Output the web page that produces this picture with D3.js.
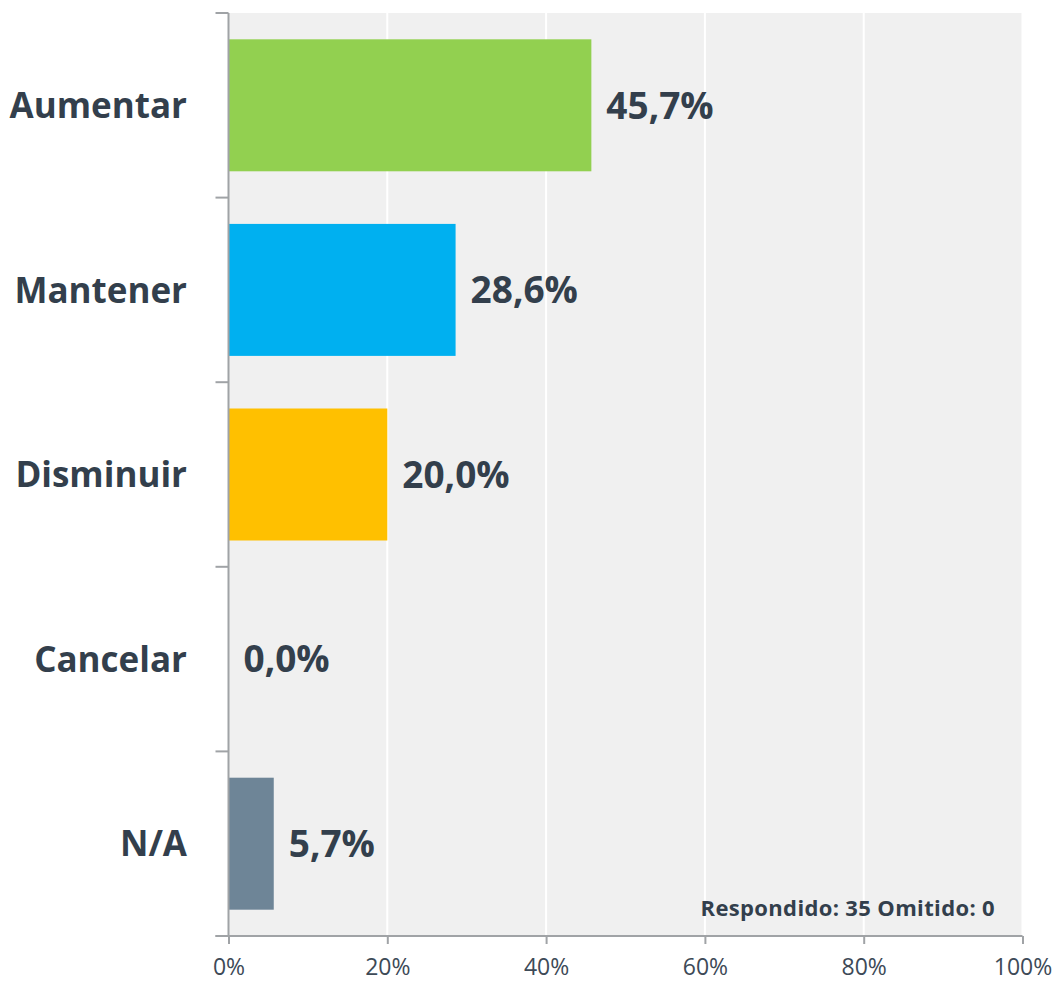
<!DOCTYPE html>
<html><head><meta charset="utf-8">
<script src="https://cdn.jsdelivr.net/npm/d3@7/dist/d3.min.js"></script>
<style>body{margin:0;background:#fff}</style>
</head><body>
<svg id="c" width="1055" height="981"></svg>
<script>
const categories = ["Aumentar","Mantener","Disminuir","Cancelar","N/A"];
const values = [45.7, 28.6, 20.0, 0.0, 5.7];
const colors = ["#92d050","#00b0f0","#ffc000","#a5a5a5","#6e8597"];
const ticks = [0,20,40,60,80,100];
const note = "Respondido: 35 Omitido: 0";

const svg = d3.select("#c");
const m = {left:228.5, right:1022.5, top:13, bottom:936};
const x = d3.scaleLinear().domain([0,100]).range([m.left, m.right]);
const y = d3.scaleBand().domain(categories).range([m.top, m.bottom]).paddingInner(0.285).paddingOuter(0.1425);
const txt = "#333f4c";
const font = "'Open Sans', sans-serif";

svg.append("rect").attr("x", m.left).attr("y", m.top).attr("width", m.right-m.left).attr("height", m.bottom-m.top).attr("fill","#f0f0f0");
svg.append("g").selectAll("line").data(ticks.slice(1)).join("line")
  .attr("x1", d=>x(d)).attr("x2", d=>x(d)).attr("y1", m.top).attr("y2", m.bottom)
  .attr("stroke","#fff").attr("stroke-width",2);

svg.append("g").selectAll("rect").data(values).join("rect")
  .attr("x", x(0)).attr("y", (d,i)=>y(categories[i]))
  .attr("width", d=>x(d)-x(0)).attr("height", y.bandwidth())
  .attr("fill", (d,i)=>colors[i]);

// y axis
const yAxis = svg.append("g").attr("transform", `translate(${m.left},0)`);
yAxis.append("line").attr("x1",0).attr("x2",0).attr("y1",m.top).attr("y2",m.bottom).attr("stroke","#a0a3a6").attr("stroke-width",2);
const bounds = d3.range(categories.length+1).map(i => m.top + i*(m.bottom-m.top)/categories.length);
yAxis.selectAll("line.t").data(bounds).join("line").attr("class","t")
  .attr("x1",-13).attr("x2",0).attr("y1",d=>d).attr("y2",d=>d).attr("stroke","#a0a3a6").attr("stroke-width",2);
svg.append("g").selectAll("text").data(categories).join("text")
  .attr("x", 187).attr("y", d=>y(d)+y.bandwidth()/2).attr("dy","0.36em")
  .attr("text-anchor","end").attr("font-family",font).attr("font-weight",700).attr("font-size",35)
  .attr("fill",txt).text(d=>d);

// x axis
const xAxis = svg.append("g").attr("transform", `translate(0,${m.bottom})`)
  .call(d3.axisBottom(x).tickValues(ticks).tickFormat(d=>d+"%").tickSize(8).tickPadding(15));
xAxis.select(".domain").attr("stroke","#a0a3a6").attr("stroke-width",2).attr("d", `M${m.left-13},0H${m.right}`);
xAxis.selectAll(".tick line").attr("stroke","#a0a3a6").attr("stroke-width",2);
xAxis.selectAll(".tick text").attr("font-family",font).attr("font-size",23).attr("fill","#3d4a57");

// value labels
svg.append("g").selectAll("text").data(values).join("text")
  .attr("x", d=>x(d)+15).attr("y", (d,i)=>y(categories[i])+y.bandwidth()/2).attr("dy","0.36em")
  .attr("font-family",font).attr("font-weight",700).attr("font-size",37).attr("fill",txt)
  .text(d=>d.toFixed(1).replace(".",",")+"%");

svg.append("text").attr("x",995).attr("y",916).attr("text-anchor","end")
  .attr("font-family",font).attr("font-weight",700).attr("font-size",22).attr("letter-spacing",0.35).attr("fill",txt).text(note);
</script>
</body></html>
